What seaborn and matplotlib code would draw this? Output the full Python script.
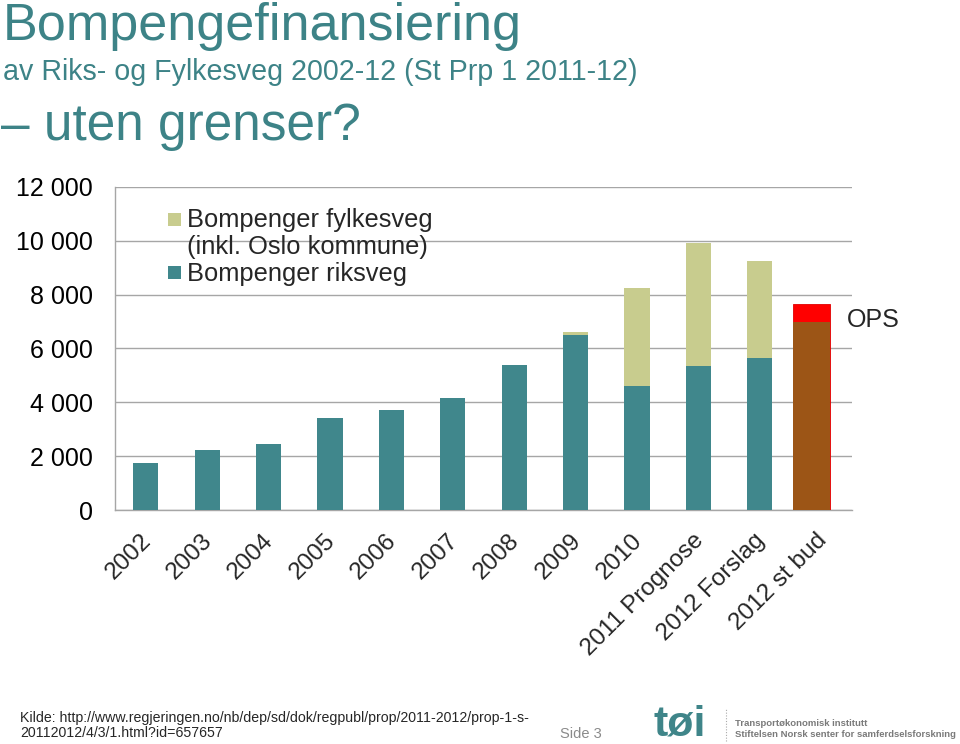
import numpy as np
import pandas as pd
import matplotlib
matplotlib.use("Agg")
import matplotlib.pyplot as plt
import matplotlib.transforms as mtransforms
from matplotlib.patches import Rectangle
from matplotlib.lines import Line2D
import seaborn as sns

# ---------------- data ----------------
categories = ["2002", "2003", "2004", "2005", "2006", "2007", "2008", "2009",
              "2010", "2011 Prognose", "2012 Forslag", "2012 st bud"]
riksveg = [1750, 2230, 2450, 3420, 3720, 4160, 5390, 6500, 4610, 5350, 5650, np.nan]
fylkesveg = [0, 0, 0, 0, 0, 0, 0, 120, 3640, 4580, 3610, np.nan]
st_bud_riks = 7000      # 2012 st bud (brown)
st_bud_ops = 660        # OPS (red) on top
y_ticks = [0, 2000, 4000, 6000, 8000, 10000, 12000]
y_tick_labels = ["0", "2 000", "4 000", "6 000", "8 000", "10 000", "12 000"]

# ---------------- style ----------------
teal = "#40878c"
khaki = "#c8cc8e"
brown = "#9c5516"
red = "#ff0000"
title_col = "#3d8387"
grid_col = "#a6a6a6"

sns.set_style("white")
plt.rcParams["font.family"] = ["Liberation Sans", "DejaVu Sans"]

df = pd.DataFrame({"kategori": categories, "riksveg": riksveg, "fylkesveg": fylkesveg})
df["total"] = df["riksveg"] + df["fylkesveg"]

fig = plt.figure(figsize=(9.6, 7.44), dpi=100)
fig.patch.set_facecolor("white")
ax = fig.add_axes([115 / 960, 1 - 510 / 744, 737 / 960, 323 / 744])

sns.barplot(data=df, x="kategori", y="total", order=categories, color=khaki,
            saturation=1, width=0.41, errorbar=None, linewidth=0, ax=ax, zorder=3)
sns.barplot(data=df, x="kategori", y="riksveg", order=categories, color=teal,
            saturation=1, width=0.41, errorbar=None, linewidth=0, ax=ax, zorder=4)

last = len(categories) - 1 - 0.16
ax.bar(last, st_bud_riks + st_bud_ops, width=0.59, color=red, edgecolor="#e00000",
       linewidth=0.6, zorder=3)
ax.bar(last, st_bud_riks, width=0.59, color=brown, linewidth=0, zorder=4)

ax.set_xlim(-0.5, len(categories) - 0.5)
ax.set_ylim(0, 12000)
ax.set_yticks(y_ticks)
ax.set_yticklabels(y_tick_labels, fontsize=18)
ax.set_xlabel("")
ax.set_ylabel("")

ax.yaxis.grid(True, color=grid_col, linewidth=1.0, zorder=0)
ax.set_axisbelow(True)
for s in ["top", "right"]:
    ax.spines[s].set_visible(False)
for s in ["left", "bottom"]:
    ax.spines[s].set_color(grid_col)
    ax.spines[s].set_linewidth(1.0)

ax.tick_params(axis="y", which="major", direction="out", length=6, width=1.0,
               color=grid_col, pad=10, labelcolor="black")
ax.set_xticks(range(len(categories)))
ax.set_xticks(np.arange(-0.5, len(categories), 1), minor=True)
ax.tick_params(axis="x", which="major", length=0, pad=14)
ax.tick_params(axis="x", which="minor", direction="out", length=5, width=1.0, color=grid_col)
ax.set_xticklabels(categories, rotation=45, ha="right", rotation_mode="anchor", fontsize=17.5)
offset = mtransforms.ScaledTranslation(-6 / 100, 0, fig.dpi_scale_trans)
for lab in ax.get_xticklabels():
    lab.set_transform(lab.get_transform() + offset)

# ---------------- legend (manual) ----------------
fig.patches.append(Rectangle((168 / 960, 1 - 226 / 744), 13 / 960, 13 / 744,
                             transform=fig.transFigure, facecolor=khaki, edgecolor="none"))
fig.patches.append(Rectangle((168 / 960, 1 - 279 / 744), 13 / 960, 13 / 744,
                             transform=fig.transFigure, facecolor=teal, edgecolor="none"))
fig.text(187 / 960, 1 - 227 / 744, "Bompenger fylkesveg", fontsize=18.4, va="baseline")
fig.text(187 / 960, 1 - 254 / 744, "(inkl. Oslo kommune)", fontsize=18.4, va="baseline")
fig.text(187 / 960, 1 - 281 / 744, "Bompenger riksveg", fontsize=18.4, va="baseline")

fig.text(847 / 960, 1 - 327 / 744, "OPS", fontsize=18, va="baseline")

# ---------------- titles ----------------
fig.text(3 / 960, 1 - 40 / 744, "Bompengefinansiering", fontsize=37.5, color=title_col, va="baseline")
fig.text(3 / 960, 1 - 80 / 744, "av Riks- og Fylkesveg 2002-12 (St Prp 1 2011-12)",
         fontsize=20.6, color=title_col, va="baseline")
fig.text(1 / 960, 1 - 140 / 744, "\u2013 uten grenser?", fontsize=37, color=title_col, va="baseline")

# ---------------- footer ----------------
fig.text(20 / 960, 1 - 722 / 744,
         "Kilde: http://www.regjeringen.no/nb/dep/sd/dok/regpubl/prop/2011-2012/prop-1-s-",
         fontsize=10.2, va="baseline")
fig.text(20 / 960, 1 - 737 / 744, "20112012/4/3/1.html?id=657657", fontsize=10.2, va="baseline")
fig.text(560 / 960, 1 - 738 / 744, "Side 3", fontsize=10.5, color="#8a8a8a", va="baseline")

fig.text(654 / 960, 1 - 736 / 744, "t\u00f8i", fontsize=31, fontweight="bold", color="#3f8589",
         va="baseline")
fig.lines.append(Line2D([726 / 960, 726 / 960], [1 - 741 / 744, 1 - 708 / 744],
                        transform=fig.transFigure, color="#aaaaaa", linestyle=(0, (1, 1.5)),
                        linewidth=0.8))
fig.text(735 / 960, 1 - 726 / 744, "Transport\u00f8konomisk institutt", fontsize=6.8,
         fontweight="bold", color="#7a7a7a", va="baseline")
fig.text(735 / 960, 1 - 737 / 744, "Stiftelsen Norsk senter for samferdselsforskning",
         fontsize=6.8, fontweight="bold", color="#7a7a7a", va="baseline")

fig.savefig("out.png", dpi=100, facecolor="white")
